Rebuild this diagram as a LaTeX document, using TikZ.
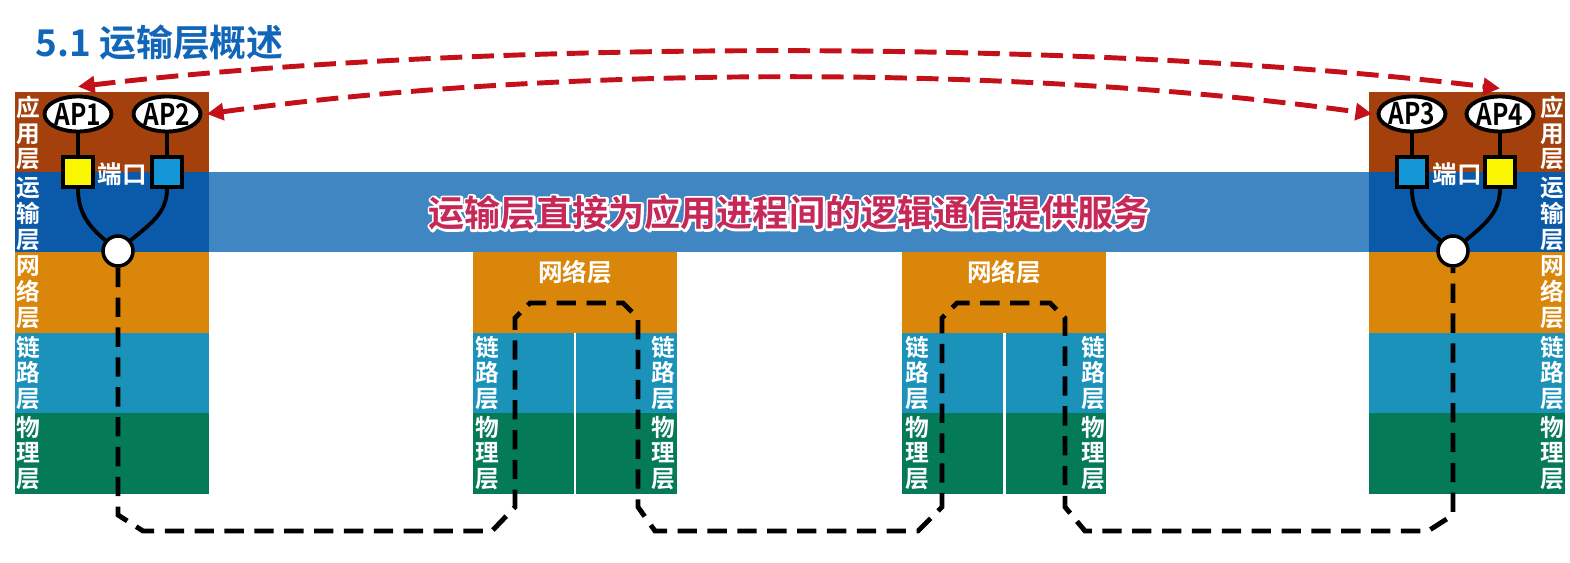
\documentclass[tikz,border=0pt]{standalone}
\usepackage{fontspec}
\setmainfont{Noto Sans CJK SC}[BoldFont={Noto Sans CJK SC Bold}]
\usetikzlibrary{arrows.meta, shapes.geometric, positioning}
\definecolor{appbrown}{RGB}{163,64,12}
\definecolor{tpblue}{RGB}{11,90,170}
\definecolor{bandblue}{RGB}{64,134,194}
\definecolor{netorange}{RGB}{218,134,10}
\definecolor{linkblue}{RGB}{27,146,185}
\definecolor{phygreen}{RGB}{4,122,86}
\definecolor{titleblue}{RGB}{18,102,185}
\definecolor{textcrimson}{RGB}{198,40,88}
\definecolor{arrowred}{RGB}{196,16,24}
\definecolor{portyellow}{RGB}{250,245,0}
\definecolor{portblue}{RGB}{20,150,215}

% white halo behind a text: stroke the glyph outlines
\newcommand{\halotext}[1]{\special{pdf:literal direct 2 Tr 2.6 w 1 J 1 j 1 1 1 RG}\textcolor{white}{#1}\special{pdf:literal direct 0 Tr}}

\tikzset{
  layerlabel/.style={text=white, font=\bfseries\fontsize{13.5}{14.7}\selectfont, align=center, inner sep=0pt},
  proc/.style={ellipse, draw=black, line width=2.2pt, fill=white, minimum width=1.34cm, minimum height=0.7cm, inner sep=0pt, font=\bfseries\fontsize{17}{17}\selectfont},
  port/.style={draw=black, line width=2pt, minimum size=0.6cm, inner sep=0pt},
  hub/.style={circle, draw=black, line width=2pt, fill=white, minimum size=0.6cm, inner sep=0pt},
  wire/.style={line width=2.2pt},
  pathline/.style={line width=2.8pt, dash pattern=on 11pt off 6pt},
  logicarrow/.style={draw=arrowred, line width=2.8pt, dash pattern=on 12.5pt off 5.5pt,
    {Triangle[length=9.5pt,width=9.5pt]}-{Triangle[length=9.5pt,width=9.5pt]}},
  bandfont/.style={font=\bfseries\fontsize{20.5}{24}\selectfont, inner sep=0pt}
}

\begin{document}
\begin{tikzpicture}[x=0.02cm, y=-0.02cm]
\useasboundingbox (0,0) rectangle (1570,563);

% Title
\node[anchor=west, text=titleblue, font=\bfseries\fontsize{21}{24}\selectfont, inner sep=0pt] (title) at (35,43) {5.1 运输层概述};

% Transport band between the hosts
\fill[bandblue] (209,172) rectangle (1369,252);

% Draw host layer stacks
\foreach \xa/\xb in {15/209, 1369/1565} {
  \foreach \ya/\yb/\col in {92/172/appbrown, 172/252/tpblue, 252/333/netorange, 333/413/linkblue, 413/494/phygreen}
    \fill[\col] (\xa,\ya) rectangle (\xb,\yb);
}

% Draw routers
\foreach \xa/\xm/\xb in {473/575/677, 902/1004/1106} {
  \fill[netorange] (\xa,252) rectangle (\xb,333);
  \fill[linkblue] (\xa,333) rectangle (\xb,413);
  \fill[phygreen] (\xa,413) rectangle (\xb,494);
  \draw[white, line width=1.7pt] (\xm,333) -- (\xm,494);
}

% Layer labels
\foreach \x/\h in {28/L, 1552/R} {
  \foreach \y/\t/\k in {133/应\\用\\层/app, 214/运\\输\\层/tp, 292/网\\络\\层/net, 373/链\\路\\层/link, 453/物\\理\\层/phy}
    \node[layerlabel] (\h-\k) at (\x,\y) {\t};
}
\foreach \xl/\xm/\xr/\r in {487/575/663/ra, 917/1004/1093/rb} {
  \node[layerlabel, font=\bfseries\fontsize{14}{15}\selectfont] (\r-net) at (\xm,272) {网络层};
  \node[layerlabel] (\r-linkl) at (\xl,373) {链\\路\\层};
  \node[layerlabel] (\r-phyl) at (\xl,453) {物\\理\\层};
  \node[layerlabel] (\r-linkr) at (\xr,373) {链\\路\\层};
  \node[layerlabel] (\r-phyr) at (\xr,453) {物\\理\\层};
}

% Band text with white outline
\node[bandfont] (bandhalo) at (789,213) {\halotext{运输层直接为应用进程间的逻辑通信提供服务}};
\node[bandfont, text=textcrimson] (bandtext) at (789,213) {运输层直接为应用进程间的逻辑通信提供服务};

% Processes, ports and multiplexers
\node[proc] (ap1) at (78,114) {\scalebox{0.82}[1]{AP1}};
\node[proc] (ap2) at (167,114) {\scalebox{0.82}[1]{AP2}};
\node[proc] (ap3) at (1412,114) {\scalebox{0.82}[1]{AP3}};
\node[proc] (ap4) at (1500,114) {\scalebox{0.82}[1]{AP4}};
\node[port, fill=portyellow] (p1) at (78,172) {};
\node[port, fill=portblue] (p2) at (167,172) {};
\node[port, fill=portblue] (p3) at (1412,172) {};
\node[port, fill=portyellow] (p4) at (1500,172) {};
\node[hub] (hubL) at (118,251) {};
\node[hub] (hubR) at (1453,251) {};
\node[text=white, font=\bfseries\fontsize{14}{16}\selectfont, inner sep=0pt] (portL) at (122,174) {端口};
\node[text=white, font=\bfseries\fontsize{14}{16}\selectfont, inner sep=0pt] (portR) at (1457,174) {端口};

\draw[wire] (ap1) -- (p1);
\draw[wire] (ap2) -- (p2);
\draw[wire] (ap3) -- (p3);
\draw[wire] (ap4) -- (p4);
\draw[wire] (p1.south) to[out=-90, in=140] (hubL);
\draw[wire] (p2.south) to[out=-90, in=40] (hubL);
\draw[wire] (p3.south) to[out=-90, in=140] (hubR);
\draw[wire] (p4.south) to[out=-90, in=40] (hubR);

% Physical path through the routers
\draw[pathline] (hubL) -- (118,515) -- (143,531) -- (492,531) -- (515,507) -- (515,318)
  -- (530,303) -- (623,303) -- (638,318) -- (638,507) -- (655,531) -- (918,531)
  -- (942,507) -- (942,318) -- (957,303) -- (1050,303) -- (1065,318) -- (1065,507)
  -- (1085,531) -- (1428,531) -- (1453,515) -- (hubR);

% Logical end-to-end communication
\draw[logicarrow] ([yshift=4.5pt]ap1.north) .. controls (480,39) and (1090,39) .. ([yshift=3.5pt]ap4.north);
\draw[logicarrow] ([xshift=2.5pt]ap2.east) .. controls (560,65) and (1020,65) .. ([xshift=-2.5pt]ap3.west);
\end{tikzpicture}
\end{document}
